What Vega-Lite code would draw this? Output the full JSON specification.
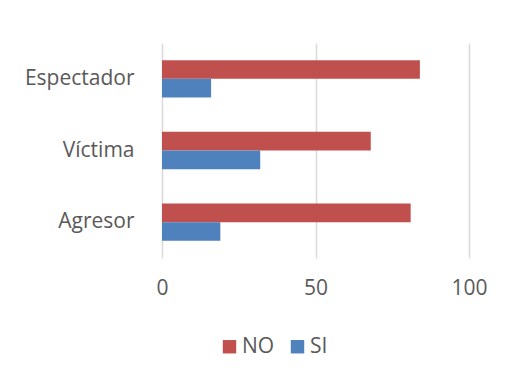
{
  "$schema": "https://vega.github.io/schema/vega-lite/v6.json",
  "autosize": {"type": "none"},
  "width": 307,
  "height": 215,
  "padding": {"left": 162, "top": 43, "right": 50, "bottom": 129},
  "background": "white",
  "data": {
    "values": [
      {"rol": "Espectador", "respuesta": "NO", "valor": 84},
      {"rol": "Espectador", "respuesta": "SI", "valor": 16},
      {"rol": "Víctima", "respuesta": "NO", "valor": 68},
      {"rol": "Víctima", "respuesta": "SI", "valor": 32},
      {"rol": "Agresor", "respuesta": "NO", "valor": 81},
      {"rol": "Agresor", "respuesta": "SI", "valor": 19}
    ]
  },
  "mark": {"type": "bar"},
  "encoding": {
    "y": {
      "field": "rol",
      "type": "nominal",
      "sort": ["Espectador", "Víctima", "Agresor"],
      "scale": {"paddingInner": 0.48, "paddingOuter": 0.24},
      "axis": {"title": null, "domain": false, "ticks": false, "labelPadding": 28, "labelFontSize": 21, "labelColor": "#595959", "labelFont": "Open Sans"}
    },
    "yOffset": {
      "field": "respuesta",
      "type": "nominal",
      "sort": ["NO", "SI"],
      "scale": {"paddingInner": 0, "paddingOuter": 0}
    },
    "x": {
      "field": "valor",
      "type": "quantitative",
      "scale": {"domain": [0, 100], "nice": false},
      "axis": {"title": null, "values": [0, 50, 100], "domain": false, "ticks": false, "grid": true, "gridColor": "#D9D9D9", "gridWidth": 1.5, "labelFlush": false, "labelPadding": 19, "labelFontSize": 21, "labelColor": "#595959", "labelFont": "Open Sans"}
    },
    "color": {
      "field": "respuesta",
      "type": "nominal",
      "scale": {"domain": ["NO", "SI"], "range": ["#C0504D", "#4F81BD"]},
      "legend": {
        "title": null,
        "orient": "none",
        "legendX": 57,
        "legendY": 293,
        "direction": "horizontal",
        "symbolType": "square",
        "symbolSize": 180,
        "symbolStrokeWidth": 0,
        "labelFontSize": 21,
        "labelFont": "Open Sans",
        "labelColor": "#595959",
        "labelOffset": 2,
        "columnPadding": 12
      }
    }
  },
  "config": {"view": {"stroke": null}}
}
